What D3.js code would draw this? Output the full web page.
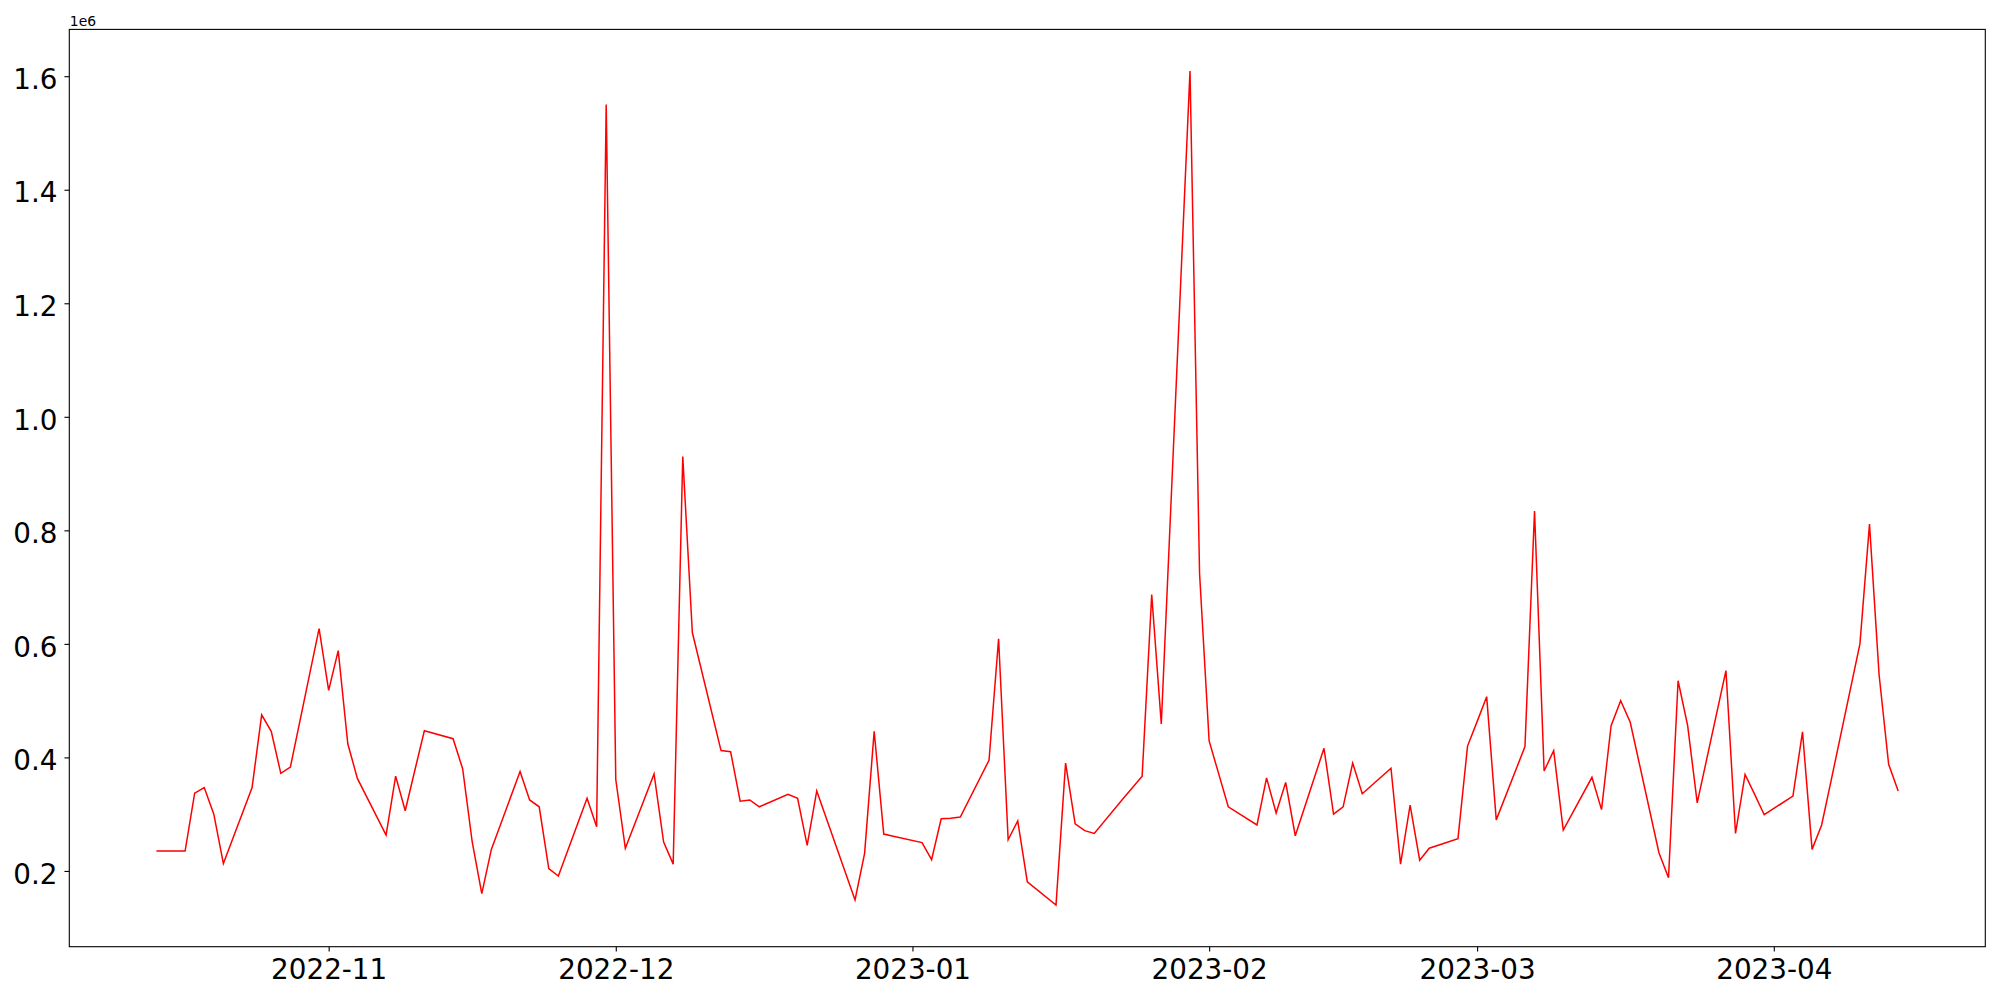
<!DOCTYPE html>
<html>
<head>
<meta charset="utf-8">
<script src="https://cdn.jsdelivr.net/npm/d3@7"></script>
<style>
  html, body { margin: 0; padding: 0; background: #fff; }
  svg { display: block; }
  text { font-family: "DejaVu Sans", sans-serif; }
</style>
</head>
<body>
<svg id="chart" width="2000" height="1000"></svg>
<script>
// ---- data ----
const dates = [
  "2022-10-14","2022-10-17","2022-10-18","2022-10-19","2022-10-20","2022-10-21",
  "2022-10-24","2022-10-25","2022-10-26","2022-10-27","2022-10-28","2022-10-31",
  "2022-11-01","2022-11-02","2022-11-03","2022-11-04",
  "2022-11-07","2022-11-08","2022-11-09","2022-11-10","2022-11-11",
  "2022-11-14","2022-11-15","2022-11-16","2022-11-17","2022-11-18",
  "2022-11-21","2022-11-22","2022-11-23","2022-11-24","2022-11-25",
  "2022-11-28","2022-11-29","2022-11-30",
  "2022-12-01","2022-12-02",
  "2022-12-05","2022-12-06","2022-12-07","2022-12-08","2022-12-09",
  "2022-12-12","2022-12-13","2022-12-14","2022-12-15","2022-12-16",
  "2022-12-19","2022-12-20","2022-12-21","2022-12-22","2022-12-23",
  "2022-12-26","2022-12-27","2022-12-28","2022-12-29","2022-12-30",
  "2023-01-02","2023-01-03","2023-01-04","2023-01-05","2023-01-06",
  "2023-01-09","2023-01-10","2023-01-11","2023-01-12","2023-01-13",
  "2023-01-16","2023-01-17","2023-01-18","2023-01-19","2023-01-20",
  "2023-01-23","2023-01-24","2023-01-25","2023-01-26","2023-01-27",
  "2023-01-30","2023-01-31",
  "2023-02-01","2023-02-02","2023-02-03",
  "2023-02-06","2023-02-07","2023-02-08","2023-02-09","2023-02-10",
  "2023-02-13","2023-02-14","2023-02-15","2023-02-16","2023-02-17",
  "2023-02-20","2023-02-21","2023-02-22","2023-02-23","2023-02-24",
  "2023-02-27","2023-02-28",
  "2023-03-01","2023-03-02","2023-03-03",
  "2023-03-06","2023-03-07","2023-03-08","2023-03-09","2023-03-10",
  "2023-03-13","2023-03-14","2023-03-15","2023-03-16","2023-03-17",
  "2023-03-20","2023-03-21","2023-03-22","2023-03-23","2023-03-24",
  "2023-03-27","2023-03-28","2023-03-29","2023-03-30","2023-03-31",
  "2023-04-03","2023-04-04","2023-04-05","2023-04-06","2023-04-07",
  "2023-04-10","2023-04-11","2023-04-12","2023-04-13","2023-04-14"
];
const values = [
  235000, 235000, 337000, 347000, 300000, 213000,
  347000, 475000, 446000, 372000, 383000, 627000,
  518000, 588000, 424000, 363000,
  263000, 367000, 306000, 377000, 447000,
  433000, 380000, 251000, 160000, 238000,
  375000, 325000, 313000, 204000, 191000,
  328000, 278000, 1550000,
  361000, 240000,
  371000, 251000, 212000, 930000, 620000,
  412000, 410000, 323000, 325000, 313000,
  335000, 328000, 245000, 341000, 293000,
  149000, 231000, 446000, 265000, 261000,
  250000, 220000, 292000, 293000, 295000,
  395000, 609000, 255000, 288000, 181000,
  140000, 390000, 283000, 271000, 266000,
  327000, 347000, 367000, 687000, 459000,
  1609000, 724000,
  429000, 371000, 313000,
  281000, 364000, 302000, 356000, 262000,
  416000, 300000, 313000, 390000, 336000,
  381000, 212000, 316000, 219000, 240000,
  257000, 420000,
  463000, 507000, 290000,
  419000, 834000, 376000, 412000, 272000,
  365000, 308000, 456000, 500000, 462000,
  232000, 188000, 535000, 456000, 320000,
  553000, 266000, 370000, 335000, 299000,
  332000, 445000, 238000, 281000, 360000,
  600000, 811000, 546000, 388000, 341000
];
const yTickValues = [200000, 400000, 600000, 800000, 1000000, 1200000, 1400000, 1600000];
const offsetLabel = "1e6";

(function () {
  // ---- layout ----
  const W = 2000, H = 1000;
  const pLeft = 69.3, pRight = 1985.3, pTop = 29.4, pBottom = 946.7;
  const tickLen = 4.86;
  const fontSize = 27.8;

  const parse = d3.timeParse("%Y-%m-%d");
  const data = dates.map((d, i) => ({ date: parse(d), value: values[i] }));

  // matplotlib-like 5% margins
  const xExt = d3.extent(data, d => d.date);
  const xSpan = xExt[1] - xExt[0];
  const x = d3.scaleTime()
    .domain([new Date(+xExt[0] - 0.05 * xSpan), new Date(+xExt[1] + 0.05 * xSpan)])
    .range([pLeft, pRight]);

  const yExt = d3.extent(data, d => d.value);
  const ySpan = yExt[1] - yExt[0];
  const y = d3.scaleLinear()
    .domain([yExt[0] - 0.05 * ySpan, yExt[1] + 0.05 * ySpan])
    .range([pBottom, pTop]);

  const svg = d3.select("#chart");
  svg.append("rect").attr("width", W).attr("height", H).attr("fill", "#fff");

  // line
  const line = d3.line().x(d => x(d.date)).y(d => y(d.value));
  svg.append("path")
    .datum(data)
    .attr("d", line)
    .attr("fill", "none")
    .attr("stroke", "#ff0000")
    .attr("stroke-width", 1.5)
    .attr("stroke-linejoin", "miter")
    .attr("stroke-linecap", "butt");

  // x axis
  const xAxis = d3.axisBottom(x)
    .ticks(d3.timeMonth.every(1))
    .tickFormat(d3.timeFormat("%Y-%m"))
    .tickSize(tickLen)
    .tickSizeOuter(0)
    .tickPadding(7.3);
  const gx = svg.append("g").attr("transform", `translate(0,${pBottom})`).call(xAxis);
  gx.select(".domain").remove();
  gx.selectAll(".tick line").attr("stroke", "#000").attr("stroke-width", 1.1);
  gx.selectAll(".tick text")
    .attr("fill", "#000")
    .style("font-family", "'DejaVu Sans', sans-serif")
    .style("font-size", fontSize + "px");

  // y axis
  const yAxis = d3.axisLeft(y)
    .tickValues(yTickValues)
    .tickFormat(v => (v / 1e6).toFixed(1))
    .tickSize(tickLen)
    .tickSizeOuter(0)
    .tickPadding(7);
  const gy = svg.append("g").attr("transform", `translate(${pLeft},0)`).call(yAxis);
  gy.select(".domain").remove();
  gy.selectAll(".tick line").attr("stroke", "#000").attr("stroke-width", 1.1);
  gy.selectAll(".tick text")
    .attr("fill", "#000")
    .attr("dy", "0.44em")
    .style("font-family", "'DejaVu Sans', sans-serif")
    .style("font-size", fontSize + "px");

  // frame (spines)
  svg.append("rect")
    .attr("x", pLeft).attr("y", pTop)
    .attr("width", pRight - pLeft).attr("height", pBottom - pTop)
    .attr("fill", "none")
    .attr("stroke", "#000")
    .attr("stroke-width", 1.1);

  // offset text
  svg.append("text")
    .attr("x", pLeft + 0.5)
    .attr("y", 26)
    .attr("fill", "#000")
    .style("font-size", "13.9px")
    .text(offsetLabel);
})();
</script>
</body>
</html>
